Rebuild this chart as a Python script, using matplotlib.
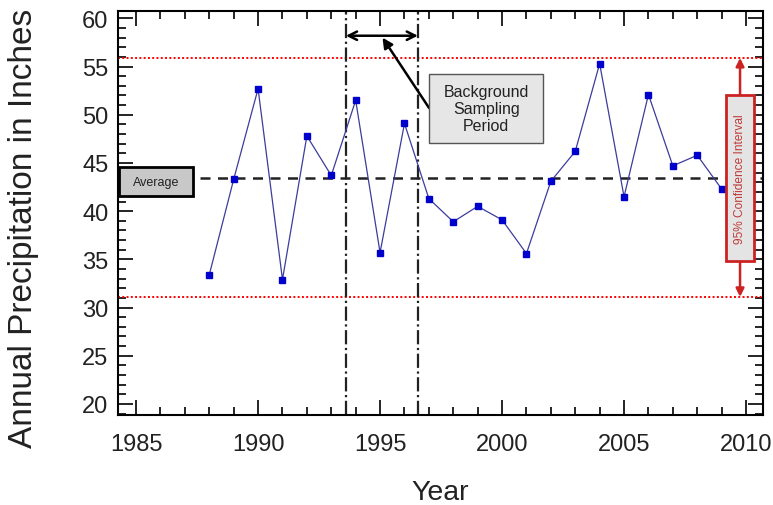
import matplotlib
matplotlib.use("Agg")
import matplotlib.pyplot as plt
from matplotlib.ticker import MultipleLocator
from matplotlib.patches import Rectangle

plt.rcParams['font.family'] = ['Liberation Sans', 'DejaVu Sans']

years = [1988, 1989, 1990, 1991, 1992, 1993, 1994, 1995, 1996, 1997, 1998,
         1999, 2000, 2001, 2002, 2003, 2004, 2005, 2006, 2007, 2008, 2009]
precip = [33.4, 43.3, 52.7, 32.9, 47.8, 43.7, 51.5, 35.7, 49.1, 41.3, 38.9,
          40.5, 39.1, 35.6, 43.1, 46.2, 55.3, 41.5, 52.1, 44.7, 45.8, 42.3]

average = 43.4
ci_upper = 55.9
ci_lower = 31.1
period_start = 1993.6
period_end = 1996.55

fig = plt.figure(figsize=(7.73, 5.06), dpi=100)
ax = fig.add_axes([0.1527, 0.178, 0.8345, 0.798])

ax.plot(years, precip, color='#3c3c9c', lw=0.9, zorder=3)
ax.plot(years, precip, ls='none', marker='s', ms=4, color='#0000cc', zorder=4)

ax.axhline(ci_upper, color='red', ls=(0, (1, 1.2)), lw=1.4, zorder=2)
ax.axhline(ci_lower, color='red', ls=(0, (1, 1.2)), lw=1.4, zorder=2)
ax.plot([1987.62, 2010.7], [average, average], color='#222222', ls=(0, (4, 3)), lw=1.8, zorder=2)
ax.axvline(period_start, color='#222222', ls='-.', lw=1.6, zorder=2)
ax.axvline(period_end, color='#222222', ls='-.', lw=1.6, zorder=2)

ax.set_xlim(1984.26, 2010.7)
ax.set_ylim(18.86, 60.75)
ax.xaxis.set_major_locator(MultipleLocator(5))
ax.xaxis.set_minor_locator(MultipleLocator(1))
ax.yaxis.set_major_locator(MultipleLocator(5))
ax.yaxis.set_minor_locator(MultipleLocator(1))
ax.tick_params(which='both', direction='in', top=True, right=True, labelsize=17,
               width=1.2, labelcolor='#222222')
ax.tick_params(which='major', length=11)
ax.tick_params(which='minor', length=6)
ax.tick_params(axis='x', pad=13)
ax.tick_params(axis='y', pad=7)
for s in ax.spines.values():
    s.set_linewidth(1.5)

ax.set_ylabel('Annual Precipitation in Inches', fontsize=24, color='#222222')
ax.yaxis.set_label_coords(-0.122, 0.465)
ax.set_xlabel('Year', fontsize=20.5, color='#222222')
ax.xaxis.set_label_coords(0.5, -0.158)

# double arrow for sampling period
ax.annotate('', xy=(period_start, 58.2), xytext=(period_end, 58.2),
            arrowprops=dict(arrowstyle='<->', lw=1.8, color='black',
                            mutation_scale=15, shrinkA=0, shrinkB=0))
# background box + arrow
ax.annotate('', xy=(1995.1, 58.0), xytext=(1997.01, 50.7),
            arrowprops=dict(arrowstyle='-|>', lw=1.8, color='black',
                            mutation_scale=15, shrinkA=0, shrinkB=0))
ax.add_patch(Rectangle((1997.01, 47.02), 4.67, 7.24, fc='#e6e6e6', ec='#555555',
                       lw=1.0, zorder=5))
ax.text(1999.35, 50.64, 'Background\nSampling\nPeriod', ha='center', va='center',
        fontsize=11.5, color='#222222', linespacing=1.2, zorder=6)

# average label
ax.add_patch(Rectangle((1984.30, 41.53), 3.04, 3.0, fc='#c8c8c8', ec='black',
                       lw=2.0, zorder=5, clip_on=False))
ax.text(1985.82, 43.03, 'Average', ha='center', va='center', fontsize=9,
        color='#222222', zorder=6)

# confidence interval
ax.add_patch(Rectangle((2009.18, 34.80), 1.15, 17.29, fc='#e4e4e4', ec='#cc2222',
                       lw=2.0, zorder=5))
ax.text(2009.755, 43.45, '95% Confidence Interval', ha='center', va='center',
        rotation=90, fontsize=8.6, color='#c03a3a', zorder=6)
ax.annotate('', xy=(2009.755, ci_upper), xytext=(2009.755, 52.09),
            arrowprops=dict(arrowstyle='-|>', lw=1.8, color='#cc2222',
                            mutation_scale=12, shrinkA=0, shrinkB=0))
ax.annotate('', xy=(2009.755, ci_lower), xytext=(2009.755, 34.80),
            arrowprops=dict(arrowstyle='-|>', lw=1.8, color='#cc2222',
                            mutation_scale=12, shrinkA=0, shrinkB=0))

fig.savefig('out.png', dpi=100)
